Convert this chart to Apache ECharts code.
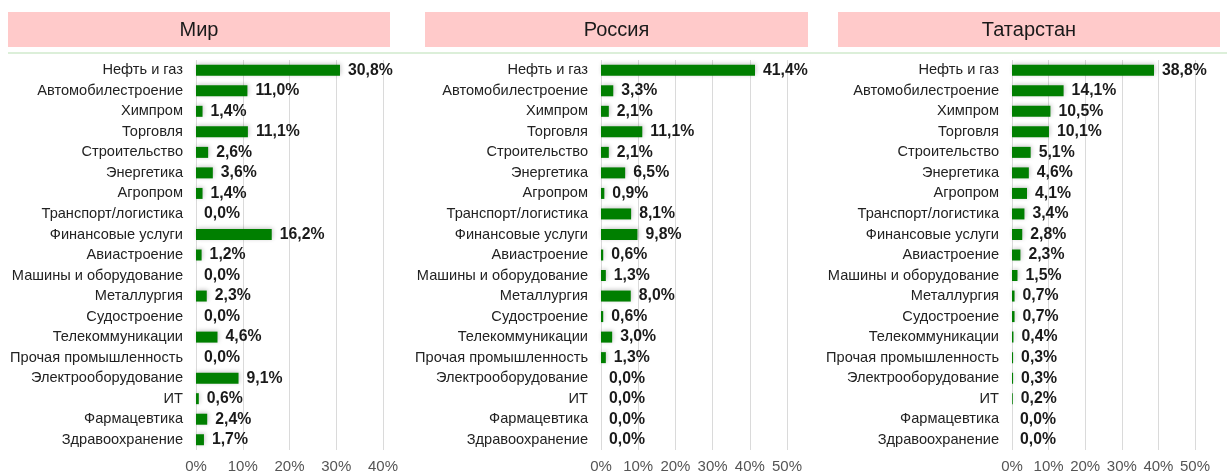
<!DOCTYPE html>
<html>
<head>
<meta charset="utf-8">
<script src="https://cdn.jsdelivr.net/npm/echarts@6/dist/echarts.min.js"></script>
<style>
  html, body { margin: 0; padding: 0; background: #fff; }
  #main { width: 1227px; height: 474px; }
</style>
</head>
<body>
<div id="main"></div>
<script>
var categories = ['Нефть и газ', 'Автомобилестроение', 'Химпром', 'Торговля', 'Строительство',
  'Энергетика', 'Агропром', 'Транспорт/логистика', 'Финансовые услуги', 'Авиастроение',
  'Машины и оборудование', 'Металлургия', 'Судостроение', 'Телекоммуникации',
  'Прочая промышленность', 'Электрооборудование', 'ИТ', 'Фармацевтика', 'Здравоохранение'];

var panelTitles = ['Мир', 'Россия', 'Татарстан'];

var worldValues = [30.8, 11.0, 1.4, 11.1, 2.6, 3.6, 1.4, 0.0, 16.2, 1.2, 0.0, 2.3, 0.0, 4.6, 0.0, 9.1, 0.6, 2.4, 1.7];
var russiaValues = [41.4, 3.3, 2.1, 11.1, 2.1, 6.5, 0.9, 8.1, 9.8, 0.6, 1.3, 8.0, 0.6, 3.0, 1.3, 0.0, 0.0, 0.0, 0.0];
var tatarstanValues = [38.8, 14.1, 10.5, 10.1, 5.1, 4.6, 4.1, 3.4, 2.8, 2.3, 1.5, 0.7, 0.7, 0.4, 0.3, 0.3, 0.2, 0.0, 0.0];

var axisMax = [40, 50, 50];

// layout per panel
var panels = [
  { left: 196, width: 187, boxX: 8, boxW: 382 },
  { left: 601, width: 186, boxX: 425, boxW: 383 },
  { left: 1012, width: 183, boxX: 838, boxW: 382 }
];
var allValues = [worldValues, russiaValues, tatarstanValues];

var grids = [], xAxes = [], yAxes = [], series = [], graphics = [];

graphics.push({
  type: 'line', shape: { x1: 8, y1: 53, x2: 1227, y2: 53 },
  style: { stroke: '#dcefd9', lineWidth: 2 }
});

panels.forEach(function (p, i) {
  grids.push({ left: p.left, width: p.width, top: 60, height: 391 });
  xAxes.push({
    gridIndex: i, type: 'value', min: 0, max: axisMax[i], interval: 10,
    axisLine: { show: false }, axisTick: { show: false },
    axisLabel: { formatter: '{value}%', fontSize: 15, color: '#555', margin: 9, fontFamily: 'Arial' },
    splitLine: { lineStyle: { color: '#dadada' } }
  });
  yAxes.push({
    gridIndex: i, type: 'category', data: categories, inverse: true,
    axisLine: { show: false }, axisTick: { show: false },
    axisLabel: { fontSize: 14.6, color: '#222', margin: 13, fontFamily: 'Arial' }
  });
  series.push({
    type: 'bar', xAxisIndex: i, yAxisIndex: i, data: allValues[i],
    barWidth: 11,
    itemStyle: { color: '#007f00', shadowColor: 'rgba(0,0,0,0.22)', shadowBlur: 4, shadowOffsetX: 1, shadowOffsetY: -1 },
    label: {
      show: true, position: 'right', distance: 8,
      fontSize: 15.8, fontWeight: 'bold', color: '#1a1a1a', fontFamily: 'Arial',
      formatter: function (d) { return d.value.toFixed(1).replace('.', ',') + '%'; }
    }
  });
  graphics.push({
    type: 'rect', shape: { x: p.boxX, y: 12, width: p.boxW, height: 35 },
    style: { fill: '#ffcaca' }
  });
  graphics.push({
    type: 'text', x: p.boxX + p.boxW / 2, y: 30,
    style: { text: panelTitles[i], fill: '#1a1a1a', font: '20px Arial', textAlign: 'center', textVerticalAlign: 'middle' }
  });
});

var chart = echarts.init(document.getElementById('main'));
chart.setOption({
  animation: false,
  grid: grids,
  xAxis: xAxes,
  yAxis: yAxes,
  series: series,
  graphic: graphics
});
</script>
</body>
</html>
